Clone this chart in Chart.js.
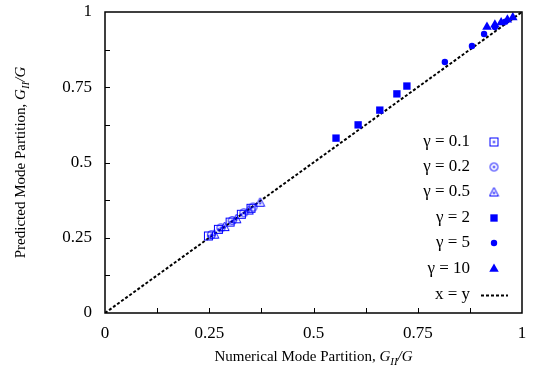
<!DOCTYPE html>
<html><head><meta charset="utf-8">
<script src="https://cdn.jsdelivr.net/npm/chart.js@4/dist/chart.umd.min.js"></script>
<style>html,body{margin:0;padding:0;background:#fff}#wrap{width:537px;height:374px}</style>
</head><body><div id="wrap"><canvas id="c" width="537" height="374"></canvas></div>
<script>
// Data
const g01X = [0.248, 0.272, 0.300, 0.327, 0.350];
const g01Y = [0.256, 0.278, 0.302, 0.328, 0.348];
const g02X = [0.255, 0.278, 0.305, 0.333, 0.355];
const g02Y = [0.260, 0.283, 0.307, 0.333, 0.352];
const g05X = [0.262, 0.287, 0.315, 0.345, 0.372];
const g05Y = [0.262, 0.287, 0.313, 0.342, 0.368];
const g2X = [0.554, 0.607, 0.659, 0.700, 0.724];
const g2Y = [0.581, 0.625, 0.674, 0.728, 0.754];
const g5X = [0.815, 0.880, 0.909, 0.935, 0.960];
const g5Y = [0.834, 0.887, 0.927, 0.950, 0.968];
const g10X = [0.916, 0.935, 0.950, 0.965, 0.978];
const g10Y = [0.950, 0.958, 0.965, 0.974, 0.982];
const lineX = [0, 1];
const lineY = [0, 1];
const tickLabels = {0: '0', 0.25: '0.25', 0.5: '0.5', 0.75: '0.75', 1: '1'};
const seriesLabels = ['\u03b3 = 0.1', '\u03b3 = 0.2', '\u03b3 = 0.5', '\u03b3 = 2', '\u03b3 = 5', '\u03b3 = 10', 'x = y'];

const BLUE = '#0000ff';
const pts = (xs, ys) => xs.map((x, i) => ({x, y: ys[i]}));

function marker(kind) {
  const c = document.createElement('canvas');
  c.width = 11; c.height = 11;
  const g = c.getContext('2d');
  g.strokeStyle = BLUE; g.fillStyle = BLUE; g.lineWidth = 1;
  if (kind === 'sq') g.strokeRect(1.5, 1.5, 8, 8);
  if (kind === 'ci') { g.beginPath(); g.arc(5.5, 5.5, 4, 0, Math.PI * 2); g.stroke(); }
  if (kind === 'tr') { g.beginPath(); g.moveTo(5.5, 1); g.lineTo(10, 9.5); g.lineTo(1, 9.5); g.closePath(); g.stroke(); }
  g.fillRect(4.5, kind === 'tr' ? 5.5 : 4.5, 2, 2);
  return c;
}
const mSq = marker('sq'), mCi = marker('ci'), mTr = marker('tr');

const datasets = [
  {label: seriesLabels[0], data: pts(g01X, g01Y), pointStyle: mSq, showLine: false},
  {label: seriesLabels[1], data: pts(g02X, g02Y), pointStyle: mCi, showLine: false},
  {label: seriesLabels[2], data: pts(g05X, g05Y), pointStyle: mTr, showLine: false},
  {label: seriesLabels[3], data: pts(g2X, g2Y), pointStyle: 'rect', pointRadius: 5.2, backgroundColor: BLUE, borderColor: BLUE, borderWidth: 0, showLine: false},
  {label: seriesLabels[4], data: pts(g5X, g5Y), pointStyle: 'circle', pointRadius: 3.2, backgroundColor: BLUE, borderColor: BLUE, borderWidth: 0, showLine: false},
  {label: seriesLabels[5], data: pts(g10X, g10Y), pointStyle: 'triangle', pointRadius: 5.5, backgroundColor: BLUE, borderColor: BLUE, borderWidth: 0, showLine: false},
  {label: seriesLabels[6], data: pts(lineX, lineY), showLine: true, pointRadius: 0, borderColor: '#000', borderWidth: 2, borderDash: [3, 2], order: 10}
];

const FONT = '"Liberation Serif", "Times New Roman", serif';

const decor = {
  id: 'decor',
  afterDraw(chart) {
    const {ctx, chartArea: a, scales: {x, y}} = chart;
    ctx.save();
    // frame
    ctx.strokeStyle = '#000'; ctx.lineWidth = 1.5;
    ctx.strokeRect(a.left, a.top, a.right - a.left, a.bottom - a.top);
    // inner ticks
    ctx.lineWidth = 1;
    ctx.beginPath();
    for (let v = 0.125; v < 1; v += 0.125) {
      const px = Math.round(x.getPixelForValue(v)) + 0.5;
      ctx.moveTo(px, a.bottom); ctx.lineTo(px, a.bottom - 5);
      const py = Math.round(y.getPixelForValue(v)) + 0.5;
      ctx.moveTo(a.left, py); ctx.lineTo(a.left + 5, py);
    }
    ctx.stroke();
    // legend
    ctx.font = '17px ' + FONT;
    ctx.textAlign = 'right'; ctx.textBaseline = 'middle';
    const rows = [142, 167, 192, 218, 243, 269, 295];
    chart.data.datasets.forEach((ds, i) => {
      const ry = rows[i];
      ctx.fillStyle = '#000';
      ctx.fillText(ds.label, 470, ry);
      if (i === 6) {
        ctx.save(); ctx.strokeStyle = '#000'; ctx.lineWidth = 2; ctx.setLineDash([3, 2]);
        ctx.beginPath(); ctx.moveTo(481, ry + 0.5); ctx.lineTo(508, ry + 0.5); ctx.stroke(); ctx.restore();
      } else if (ds.pointStyle instanceof HTMLCanvasElement) {
        ctx.drawImage(ds.pointStyle, 494 - 5.5, ry - 5.5);
      } else {
        ctx.fillStyle = BLUE; ctx.strokeStyle = BLUE;
        Chart.helpers.drawPoint(ctx, {pointStyle: ds.pointStyle, radius: ds.pointRadius, borderWidth: 0}, 494, ry);
      }
    });
    // axis titles
    ctx.fillStyle = '#000'; ctx.textBaseline = 'alphabetic'; ctx.textAlign = 'left';
    const titleParts = (lead) => [
      {t: lead, f: '15px ' + FONT, dy: 0},
      {t: 'G', f: 'italic 15px ' + FONT, dy: 0},
      {t: 'II', f: 'italic 11px ' + FONT, dy: 4},
      {t: '/G', f: 'italic 15px ' + FONT, dy: 0}
    ];
    const drawParts = (parts, cx, cy) => {
      let w = 0;
      parts.forEach(p => { ctx.font = p.f; w += ctx.measureText(p.t).width; });
      let sx = cx - w / 2;
      parts.forEach(p => { ctx.font = p.f; ctx.fillText(p.t, sx, cy + p.dy); sx += ctx.measureText(p.t).width; });
    };
    drawParts(titleParts('Numerical Mode Partition, '), (a.left + a.right) / 2, 361);
    ctx.save();
    ctx.translate(25, (a.top + a.bottom) / 2);
    ctx.rotate(-Math.PI / 2);
    drawParts(titleParts('Predicted Mode Partition, '), 0, 0);
    ctx.restore();
    ctx.restore();
  }
};

const noPad = s => { s.paddingTop = 0; s.paddingBottom = 0; s.paddingLeft = 0; s.paddingRight = 0; };

new Chart(document.getElementById('c'), {
  type: 'scatter',
  data: {datasets},
  options: {
    responsive: false, animation: false,
    layout: {padding: {top: 12, right: 15, left: 0, bottom: 0}},
    elements: {point: {radius: 4, hoverRadius: 4, borderColor: BLUE, backgroundColor: BLUE}, line: {tension: 0}},
    plugins: {legend: {display: false}, tooltip: {enabled: false}},
    scales: {
      x: {
        type: 'linear', min: 0, max: 1,
        afterFit: s => { s.height = 61; noPad(s); },
        border: {display: false},
        grid: {display: false},
        ticks: {stepSize: 0.25, padding: 2, color: '#000', font: {family: FONT, size: 17}, maxRotation: 0,
          callback: v => tickLabels[v] !== undefined ? tickLabels[v] : ''}
      },
      y: {
        type: 'linear', min: 0, max: 1,
        afterFit: s => { s.width = 105; noPad(s); },
        border: {display: false},
        grid: {display: false},
        ticks: {stepSize: 0.25, padding: 5, color: '#000', font: {family: FONT, size: 17},
          callback: v => tickLabels[v] !== undefined ? tickLabels[v] : ''}
      }
    }
  },
  plugins: [decor]
});
</script>
</body></html>
